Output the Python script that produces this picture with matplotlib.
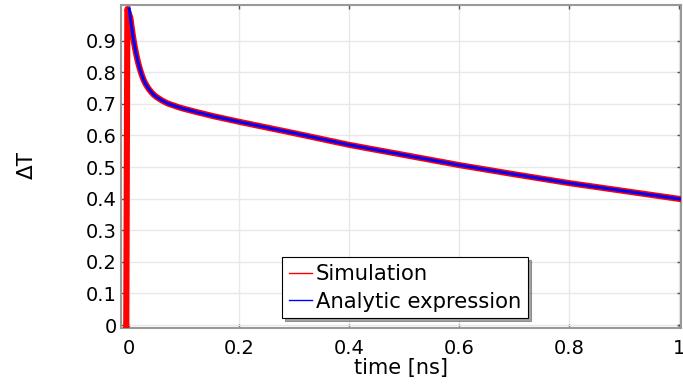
import numpy as np
import matplotlib
matplotlib.use("Agg")
import matplotlib.pyplot as plt
from matplotlib.lines import Line2D

# analytic expression
t_analytic = [0.0, 0.002, 0.004, 0.006, 0.008, 0.010, 0.012, 0.014, 0.016, 0.018,
              0.020, 0.023, 0.026, 0.030, 0.035, 0.040, 0.045, 0.050, 0.060, 0.070,
              0.080, 0.090, 0.100, 0.120, 0.150, 0.200, 0.300, 0.400, 0.500, 0.600,
              0.700, 0.800, 0.900, 1.000]
dT_analytic = [1.0, 0.972, 0.946, 0.922, 0.900, 0.880, 0.862, 0.846, 0.831, 0.818,
               0.806, 0.790, 0.776, 0.762, 0.748, 0.737, 0.728, 0.721, 0.710, 0.701,
               0.695, 0.689, 0.684, 0.675, 0.662, 0.643, 0.607, 0.570, 0.538, 0.506,
               0.477, 0.449, 0.424, 0.399]

# simulation: jumps from 0 to 1 right at the start, then follows the same decay
t_sim = [-0.0055, -0.0035] + t_analytic[1:]
dT_sim = [0.0, 1.0] + dT_analytic[1:]

fig = plt.figure(figsize=(6.83, 3.85), dpi=100)
ax = fig.add_axes([0.1772, 0.1473, 0.8199, 0.8397])

ax.plot(t_sim, dT_sim, color="red", lw=4.4, solid_joinstyle="round", zorder=3)
ax.plot(t_analytic, dT_analytic, color="blue", lw=2.2, zorder=4)

ax.set_xlim(-0.015, 1.003)
ax.set_ylim(-0.0104, 1.0127)
ax.set_xticks([0, 0.2, 0.4, 0.6, 0.8, 1.0])
ax.set_xticklabels(["0", "0.2", "0.4", "0.6", "0.8", "1"])
ax.set_yticks(np.arange(0, 1.0, 0.1))
ax.set_yticklabels(["0", "0.1", "0.2", "0.3", "0.4", "0.5", "0.6", "0.7", "0.8", "0.9"])

ax.grid(True, color="#e8e8e8", lw=1)
ax.set_axisbelow(True)
ax.tick_params(direction="in", top=True, right=True, length=3, width=1,
               color="#555555", labelsize=14)
ax.tick_params(axis="x", pad=7.5)
ax.tick_params(axis="y", pad=3)
for s in ax.spines.values():
    s.set_color("#999999")
    s.set_linewidth(1.5)

ax.set_xlabel("time [ns]", fontsize=15, labelpad=0)
ax.set_ylabel("ΔT", fontsize=15.5)
ax.yaxis.set_label_coords(-0.15, 0.505)

handles = [Line2D([], [], color="red", lw=1), Line2D([], [], color="blue", lw=1)]
leg = ax.legend(handles, ["Simulation", "Analytic expression"],
                loc="lower left", bbox_to_anchor=(0.287, 0.031), borderaxespad=0,
                fontsize=15.2, fancybox=False, shadow=True, framealpha=1,
                edgecolor="black", handlelength=1.1, handletextpad=0.2,
                labelspacing=0.35, borderpad=0.32)
leg.get_frame().set_linewidth(0.8)

fig.savefig("out.png", dpi=100)
